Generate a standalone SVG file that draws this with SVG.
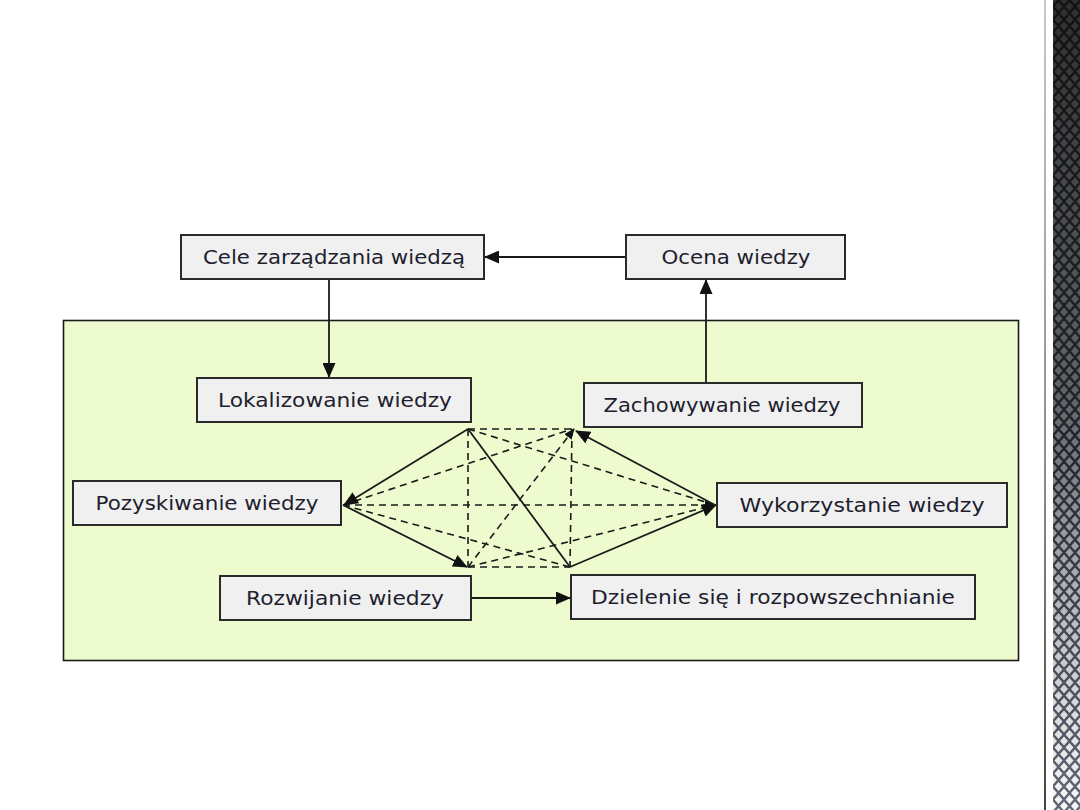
<svg xmlns="http://www.w3.org/2000/svg" width="1080" height="810" viewBox="0 0 1080 810">
  <style>
    .box { fill: #f0f0f0; stroke: #2a2a2a; stroke-width: 2; }
    .lbl { font-family: "DejaVu Sans", Verdana, sans-serif; font-size: 19px; fill: #1e1e2e; text-anchor: middle; }
    .conn { stroke: #1a1a1a; stroke-width: 1.8; fill: none; }
    .dash { stroke: #1a1a1a; stroke-width: 1.6; fill: none; stroke-dasharray: 7 5; }
  </style>
  <defs>
    <marker id="arr" markerUnits="userSpaceOnUse" markerWidth="15" markerHeight="13" refX="14" refY="6.5" orient="auto">
      <path d="M0,0 L15,6.5 L0,13 Z" fill="#111"/>
    </marker>
    <marker id="arrs" markerUnits="userSpaceOnUse" markerWidth="11" markerHeight="9" refX="10" refY="4.5" orient="auto">
      <path d="M0,0 L11,4.5 L0,9 Z" fill="#111"/>
    </marker>
    <pattern id="diam" patternUnits="userSpaceOnUse" width="11" height="13" x="1053" y="0">
      <path d="M5.5,2 L9.5,6.5 L5.5,11 L1.5,6.5 Z" fill="#ffffff"/>
      <path d="M0,-4.5 L4,0 L0,4.5 L-4,0 Z M11,-4.5 L15,0 L11,4.5 L7,0 Z M0,8.5 L4,13 L0,17.5 L-4,13 Z M11,8.5 L15,13 L11,17.5 L7,13 Z" fill="#ffffff"/>
    </pattern>
    <linearGradient id="stripBg" x1="0" y1="0" x2="0" y2="1">
      <stop offset="0" stop-color="#131313"/>
      <stop offset="0.55" stop-color="#22262c"/>
      <stop offset="1" stop-color="#626875"/>
    </linearGradient>
    <linearGradient id="stripMaskG" x1="0" y1="0" x2="0" y2="1">
      <stop offset="0" stop-color="#fff" stop-opacity="0.12"/>
      <stop offset="0.5" stop-color="#fff" stop-opacity="0.3"/>
      <stop offset="1" stop-color="#fff" stop-opacity="0.95"/>
    </linearGradient>
    <linearGradient id="lineG" x1="0" y1="0" x2="0" y2="1">
      <stop offset="0" stop-color="#c8c8c8"/>
      <stop offset="0.6" stop-color="#8a8a8a"/>
      <stop offset="1" stop-color="#444"/>
    </linearGradient>
    <mask id="stripMask" maskUnits="userSpaceOnUse" x="1053" y="0" width="27" height="810">
      <rect x="1053" y="0" width="27" height="810" fill="url(#stripMaskG)"/>
    </mask>
  </defs>

  <rect x="0" y="0" width="1080" height="810" fill="#ffffff"/>

  <g id="side-strip">
    <rect x="1044" y="0" width="2" height="810" fill="url(#lineG)"/>
    <rect x="1053" y="0" width="27" height="810" fill="url(#stripBg)"/>
    <rect x="1053" y="0" width="27" height="810" fill="url(#diam)" mask="url(#stripMask)"/>
  </g>

  <g id="process-area">
    <rect x="63.5" y="320.5" width="955" height="340" fill="#eefbce" stroke="#1a1a1a" stroke-width="1.6"/>
  </g>

  <g id="connectors">
    <line class="conn" x1="626" y1="257" x2="485" y2="257" marker-end="url(#arr)"/>
    <line class="conn" x1="329" y1="279" x2="329" y2="377" marker-end="url(#arr)"/>
    <line class="conn" x1="706" y1="383" x2="706" y2="280" marker-end="url(#arr)"/>
    <line class="conn" x1="471" y1="598" x2="570" y2="598" marker-end="url(#arr)"/>

    <line class="dash" x1="468" y1="429" x2="572" y2="429"/>
    <line class="dash" x1="468" y1="567" x2="570" y2="567"/>
    <line class="dash" x1="468" y1="429" x2="468" y2="567"/>
    <line class="dash" x1="572" y1="429" x2="570" y2="567"/>
    <line class="dash" x1="343" y1="505" x2="715" y2="505" marker-end="url(#arrs)"/>
    <line class="dash" x1="343" y1="505" x2="572" y2="429"/>
    <line class="dash" x1="468" y1="429" x2="715" y2="505"/>
    <line class="dash" x1="343" y1="505" x2="570" y2="567"/>
    <line class="dash" x1="468" y1="567" x2="715" y2="505"/>
    <line class="dash" x1="468" y1="567" x2="574" y2="429" marker-end="url(#arrs)"/>

    <line class="conn" x1="468" y1="429" x2="344" y2="505" marker-end="url(#arr)"/>
    <line class="conn" x1="343" y1="505" x2="467" y2="567" marker-end="url(#arr)"/>
    <line class="conn" x1="468" y1="429" x2="570" y2="567"/>
    <line class="conn" x1="570" y1="567" x2="716" y2="505" marker-end="url(#arr)"/>
    <line class="conn" x1="715" y1="505" x2="576" y2="431" marker-end="url(#arr)"/>
  </g>

  <g id="cele">
    <rect class="box" x="181" y="235" width="303" height="44"/>
    <text class="lbl" x="334" y="264" textLength="262" lengthAdjust="spacingAndGlyphs">Cele zarządzania wiedzą</text>
  </g>
  <g id="ocena">
    <rect class="box" x="626" y="235" width="219" height="44"/>
    <text class="lbl" x="736" y="264" textLength="149" lengthAdjust="spacingAndGlyphs">Ocena wiedzy</text>
  </g>
  <g id="lokalizowanie">
    <rect class="box" x="197" y="378" width="274" height="44"/>
    <text class="lbl" x="335" y="407" textLength="234" lengthAdjust="spacingAndGlyphs">Lokalizowanie wiedzy</text>
  </g>
  <g id="zachowywanie">
    <rect class="box" x="584" y="383" width="278" height="44"/>
    <text class="lbl" x="722" y="412" textLength="237" lengthAdjust="spacingAndGlyphs">Zachowywanie wiedzy</text>
  </g>
  <g id="pozyskiwanie">
    <rect class="box" x="73" y="481" width="268" height="44"/>
    <text class="lbl" x="207" y="510" textLength="223" lengthAdjust="spacingAndGlyphs">Pozyskiwanie wiedzy</text>
  </g>
  <g id="wykorzystanie">
    <rect class="box" x="717" y="483" width="290" height="44"/>
    <text class="lbl" x="862" y="512" textLength="245" lengthAdjust="spacingAndGlyphs">Wykorzystanie wiedzy</text>
  </g>
  <g id="rozwijanie">
    <rect class="box" x="220" y="576" width="251" height="44"/>
    <text class="lbl" x="345" y="605" textLength="198" lengthAdjust="spacingAndGlyphs">Rozwijanie wiedzy</text>
  </g>
  <g id="dzielenie">
    <rect class="box" x="571" y="575" width="404" height="44"/>
    <text class="lbl" x="773" y="604" textLength="364" lengthAdjust="spacingAndGlyphs">Dzielenie się i rozpowszechnianie</text>
  </g>
</svg>
